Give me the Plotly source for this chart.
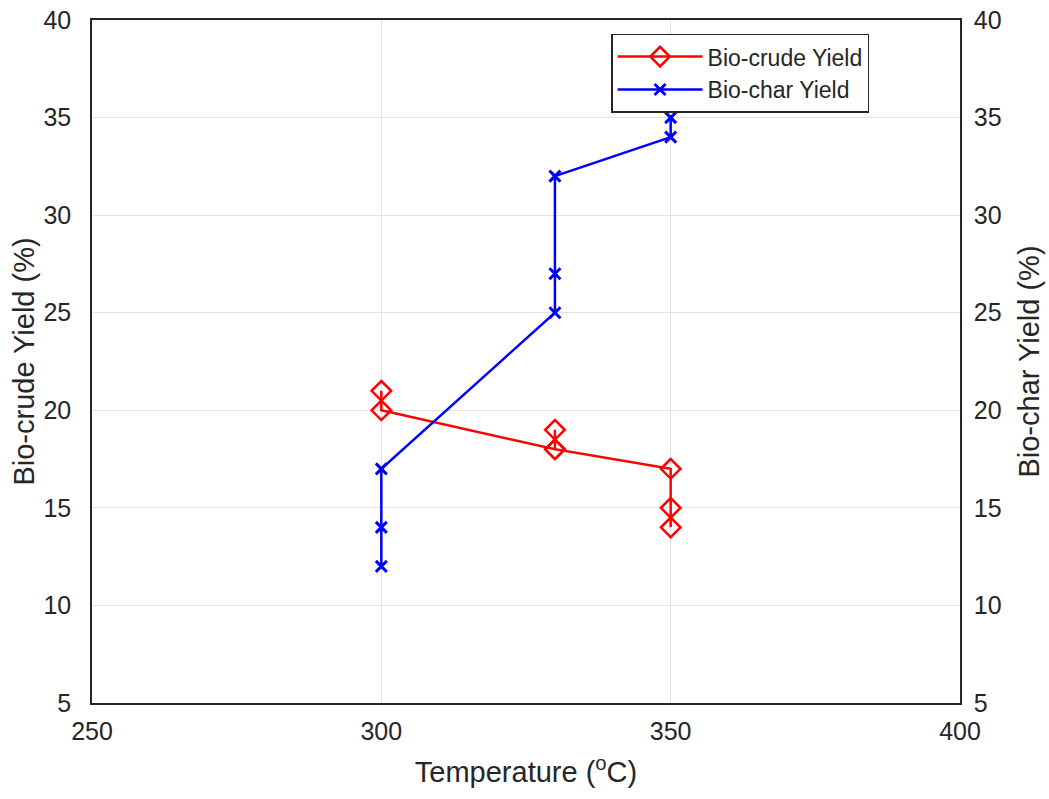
import plotly.graph_objects as go

# Data
crude_temp = [300, 300, 330, 330, 330, 350, 350, 350]
crude_yield = [21, 20, 18, 19, 18, 17, 15, 14]
char_temp = [300, 300, 300, 330, 330, 330, 350, 350]
char_yield = [12, 14, 17, 25, 27, 32, 34, 35]

x_ticks = [250, 300, 350, 400]
y_ticks = [5, 10, 15, 20, 25, 30, 35, 40]

font_family = "Liberation Sans, Arial, sans-serif"
axis_color = "#262626"
grid_color = "#e3e3e3"

fig = go.Figure()
fig.add_trace(go.Scatter(
    x=crude_temp, y=crude_yield, mode="lines+markers", name="Bio-crude Yield",
    line=dict(color="#ff0000", width=2.5),
    marker=dict(symbol="diamond-open", size=15, color="#ff0000", line=dict(width=2.5)),
    yaxis="y",
))
fig.add_trace(go.Scatter(
    x=char_temp, y=char_yield, mode="lines+markers", name="Bio-char Yield",
    line=dict(color="#0000ff", width=2.5),
    marker=dict(symbol="x-thin", size=11, color="#0000ff", line=dict(width=3, color="#0000ff")),
    yaxis="y2",
))

fig.update_layout(
    width=1049, height=799,
    margin=dict(l=92, r=89, t=20, b=96, autoexpand=False),
    paper_bgcolor="white", plot_bgcolor="white",
    font=dict(family=font_family, color=axis_color, size=25),
    showlegend=True,
    legend=dict(
        x=0.598, y=0.98, xanchor="left", yanchor="top",
        bgcolor="white", bordercolor=axis_color, borderwidth=1.5,
        font=dict(size=23, color=axis_color),
        tracegroupgap=0, itemwidth=85,
    ),
    xaxis=dict(
        range=[250, 400], tickvals=x_ticks, ticktext=[str(v) for v in x_ticks],
        showgrid=True, gridcolor=grid_color, gridwidth=1,
        showline=True, linecolor=axis_color, linewidth=1.5, mirror=True,
        zeroline=False, ticks="", ticklabelstandoff=5, automargin=False,
        tickfont=dict(size=25),
        title=dict(text="Temperature (<sup>o</sup>C)", font=dict(size=29, color=axis_color), standoff=18),
    ),
    yaxis=dict(
        range=[5, 40], tickvals=y_ticks,
        showgrid=True, gridcolor=grid_color, gridwidth=1,
        showline=True, linecolor=axis_color, linewidth=1.5, mirror=True,
        zeroline=False, ticks="", ticklabelstandoff=14, automargin=False,
        tickfont=dict(size=25),
        title=dict(text="Bio-crude Yield (%)", font=dict(size=29, color=axis_color), standoff=0),
    ),
    yaxis2=dict(
        range=[5, 40], tickvals=y_ticks, overlaying="y", side="right",
        showgrid=False, showline=True, linecolor=axis_color, linewidth=1.5,
        zeroline=False, ticks="", ticklabelstandoff=7, automargin=False,
        tickfont=dict(size=25),
        title=dict(text="Bio-char Yield (%)", font=dict(size=29, color=axis_color), standoff=18),
    ),
)

fig.write_html("out.html")
